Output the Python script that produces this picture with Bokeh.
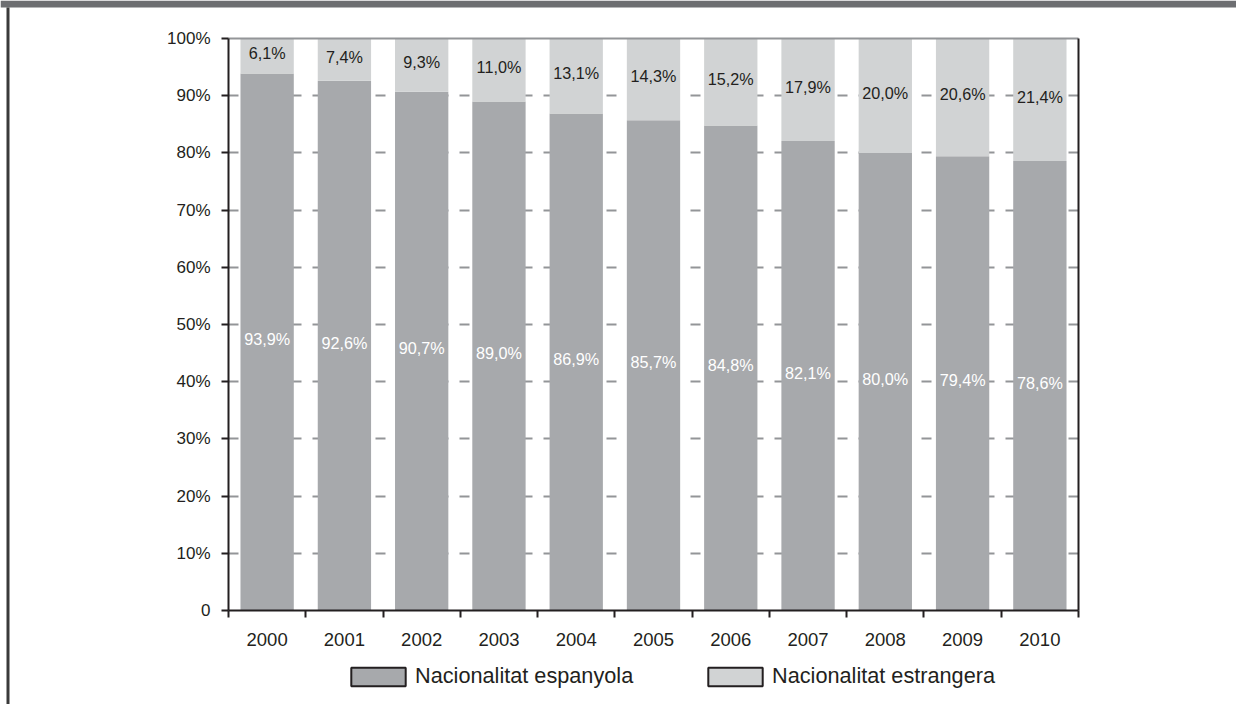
from bokeh.plotting import figure
from bokeh.models import (Range1d, FixedTicker, LinearAxis, Legend, LegendItem,
                          ColumnDataSource, BoxAnnotation)
from bokeh.core.properties import value
from bokeh.embed import file_html
from bokeh.resources import INLINE

# ---------------- data ----------------
years = ["2000", "2001", "2002", "2003", "2004", "2005", "2006", "2007", "2008", "2009", "2010"]
espanyola = [93.9, 92.6, 90.7, 89.0, 86.9, 85.7, 84.8, 82.1, 80.0, 79.4, 78.6]
estrangera = [6.1, 7.4, 9.3, 11.0, 13.1, 14.3, 15.2, 17.9, 20.0, 20.6, 21.4]
series_names = ["Nacionalitat espanyola", "Nacionalitat estrangera"]
y_ticks = [0, 10, 20, 30, 40, 50, 60, 70, 80, 90, 100]
y_tick_labels = ["0", "10%", "20%", "30%", "40%", "50%", "60%", "70%", "80%", "90%", "100%"]

# ---------------- style / geometry (canvas pixels) ----------------
W, H = 1236, 704
FL, FR, FT, FB = 228, 1078, 38, 610   # plot box edges
DARK = "#231f20"
C_ESP = "#a7a9ac"
C_EST = "#d1d3d4"
GRID = "#939598"
FONT = "Liberation Sans"

n = len(years)


def fmt(v):
    return f"{v:.1f}".replace(".", ",") + "%"


def px2x(px):
    return (px - FL) / (FR - FL) * n


def py2y(py):
    return (FB - py) / (FB - FT) * 100


xs = [i + 0.5 for i in range(n)]
tops = [a + b for a, b in zip(espanyola, estrangera)]
src = ColumnDataSource(dict(
    x=xs, esp=espanyola, tot=tops,
    esp_mid=[a / 2 for a in espanyola],
    est_mid=[a + b / 2 for a, b in zip(espanyola, estrangera)],
    esp_lab=[fmt(v) for v in espanyola],
    est_lab=[fmt(v) for v in estrangera],
))

p = figure(width=W, height=H, output_backend="svg", toolbar_location=None,
           x_range=Range1d(px2x(0), px2x(W)), y_range=Range1d(py2y(H), py2y(0)),
           x_axis_type=None, y_axis_type=None,
           min_border_left=0, min_border_right=0, min_border_top=0, min_border_bottom=0)
p.outline_line_color = None
p.background_fill_color = "white"
p.border_fill_color = "white"

# dashed horizontal grid, drawn as long inward ticks of a bare axis
grid_axis = LinearAxis(fixed_location=0, bounds=(0, 100),
                       ticker=FixedTicker(ticks=y_ticks[1:-1]), level="underlay")
grid_axis.axis_line_color = None
grid_axis.major_tick_in = FR - FL
grid_axis.major_tick_out = 0
grid_axis.major_tick_line_color = GRID
grid_axis.major_tick_line_width = 2
grid_axis.major_tick_line_dash = "10 11"
grid_axis.minor_tick_line_color = None
grid_axis.major_label_text_font_size = "0px"
grid_axis.major_label_text_color = None
p.add_layout(grid_axis, "left")

# y axis
yaxis = LinearAxis(fixed_location=0, bounds=(0, 100), ticker=FixedTicker(ticks=y_ticks),
                   major_label_overrides={t: l for t, l in zip(y_ticks, y_tick_labels)})
yaxis.axis_line_color = DARK
yaxis.axis_line_width = 2
yaxis.major_tick_line_color = DARK
yaxis.major_tick_line_width = 2
yaxis.major_tick_out = 7
yaxis.major_tick_in = 0
yaxis.minor_tick_line_color = None
yaxis.major_label_text_font = FONT
yaxis.major_label_text_font_size = "17px"
yaxis.major_label_text_color = DARK
yaxis.major_label_standoff = 11
p.add_layout(yaxis, "left")

# x axis: labels at category centres, tick marks at category boundaries
xaxis = LinearAxis(fixed_location=0, bounds=(0, n),
                   ticker=FixedTicker(ticks=xs, minor_ticks=list(range(n + 1))),
                   major_label_overrides={x: y for x, y in zip(xs, years)})
xaxis.axis_line_color = DARK
xaxis.axis_line_width = 2
xaxis.major_tick_line_color = None
xaxis.major_tick_out = 0
xaxis.major_tick_in = 0
xaxis.minor_tick_line_color = DARK
xaxis.minor_tick_line_width = 2
xaxis.minor_tick_out = 7
xaxis.minor_tick_in = 0
xaxis.major_label_text_font = FONT
xaxis.major_label_text_font_size = "18.5px"
xaxis.major_label_text_color = DARK
xaxis.major_label_standoff = 15
p.add_layout(xaxis, "below")

# right frame line and top (100%) line
raxis = LinearAxis(fixed_location=n, bounds=(0, 100), ticker=FixedTicker(ticks=[]))
raxis.axis_line_color = DARK
raxis.axis_line_width = 2
raxis.major_tick_line_color = None
raxis.minor_tick_line_color = None
raxis.major_label_text_font_size = "0px"
p.add_layout(raxis, "right")

taxis = LinearAxis(fixed_location=100, bounds=(0, n), ticker=FixedTicker(ticks=[]))
taxis.axis_line_color = GRID
taxis.axis_line_width = 2
taxis.major_tick_line_color = None
taxis.minor_tick_line_color = None
taxis.major_label_text_font_size = "0px"
p.add_layout(taxis, "above")

# bars
p.vbar(x="x", bottom=0, top="esp", width=0.69, fill_color=C_ESP, line_color=None, source=src)
p.vbar(x="x", bottom="esp", top="tot", width=0.69, fill_color=C_EST, line_color=None, source=src)

# value labels
p.text(x="x", y="esp_mid", text="esp_lab", source=src, text_align="center",
       text_baseline="middle", text_color="white", text_font=value(FONT),
       text_font_size="16.2px", y_offset=-3)
p.text(x="x", y="est_mid", text="est_lab", source=src, text_align="center",
       text_baseline="middle", text_color=DARK, text_font=value(FONT),
       text_font_size="16.2px", y_offset=-3)

# legend (swatch renderers are hidden; they only supply the legend glyph style)
r_esp = p.vbar(x="x", bottom=0, top="esp", width=0.69, fill_color=C_ESP,
               line_color=DARK, line_width=2, source=src, visible=False)
r_est = p.vbar(x="x", bottom="esp", top="tot", width=0.69, fill_color=C_EST,
               line_color=DARK, line_width=2, source=src, visible=False)
for r, name, lx in [(r_esp, series_names[0], 344), (r_est, series_names[1], 701)]:
    leg = Legend(items=[LegendItem(label=name, renderers=[r])], location=(lx, H - 689),
                 orientation="horizontal", glyph_width=68, glyph_height=23,
                 label_text_font=FONT, label_text_font_size="21.7px", label_text_color=DARK,
                 padding=0, margin=0, border_line_color=None, background_fill_alpha=0,
                 label_standoff=3, label_height=23, inactive_fill_alpha=0)
    p.add_layout(leg)

# page decoration: top bar and left border
p.add_layout(BoxAnnotation(left=px2x(0), right=px2x(W), top=py2y(0), bottom=py2y(7),
                           fill_color="#6d6e71", fill_alpha=1, line_color=None, level="overlay"))
p.add_layout(BoxAnnotation(left=px2x(6), right=px2x(9), top=py2y(7), bottom=py2y(H),
                           fill_color="#3a3a3a", fill_alpha=1, line_color=None, level="overlay"))

open("out.html", "w").write(file_html(p, INLINE))
